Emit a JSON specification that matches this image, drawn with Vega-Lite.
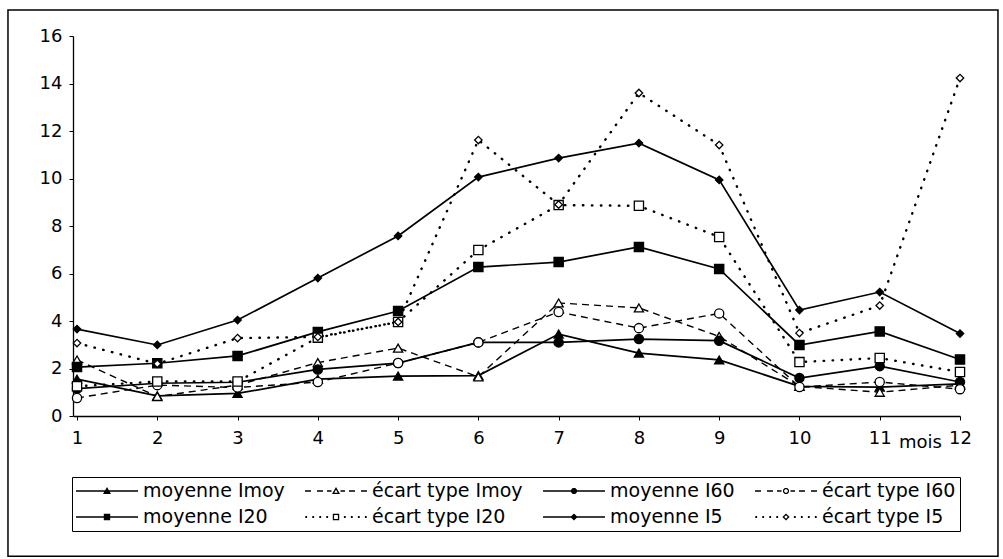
{
  "$schema": "https://vega.github.io/schema/vega-lite/v6.json",
  "width": 887,
  "height": 380,
  "autosize": {"type": "none"},
  "padding": {"left": 73, "top": 36, "right": 43, "bottom": 143},
  "background": "white",
  "config": {"view": {"stroke": null}, "font": "DejaVu Sans"},
  "data": {
    "values": [
      {"mois": 1, "moyenne Imoy": 1.55, "écart type Imoy": 2.36, "moyenne I60": 1.15, "écart type I60": 0.76, "moyenne I20": 2.06, "écart type I20": 1.25, "moyenne I5": 3.66, "écart type I5": 3.07},
      {"mois": 2, "moyenne Imoy": 0.85, "écart type Imoy": 0.82, "moyenne I60": 1.38, "écart type I60": 1.3, "moyenne I20": 2.22, "écart type I20": 1.45, "moyenne I5": 2.99, "écart type I5": 2.2},
      {"mois": 3, "moyenne Imoy": 0.95, "écart type Imoy": 1.3, "moyenne I60": 1.42, "écart type I60": 1.2, "moyenne I20": 2.53, "écart type I20": 1.45, "moyenne I5": 4.04, "écart type I5": 3.28},
      {"mois": 4, "moyenne Imoy": 1.55, "écart type Imoy": 2.25, "moyenne I60": 1.96, "écart type I60": 1.43, "moyenne I20": 3.54, "écart type I20": 3.3, "moyenne I5": 5.81, "écart type I5": 3.33},
      {"mois": 5, "moyenne Imoy": 1.68, "écart type Imoy": 2.86, "moyenne I60": 2.23, "écart type I60": 2.23, "moyenne I20": 4.42, "écart type I20": 3.96, "moyenne I5": 7.58, "écart type I5": 3.96},
      {"mois": 6, "moyenne Imoy": 1.7, "écart type Imoy": 1.65, "moyenne I60": 3.1, "écart type I60": 3.1, "moyenne I20": 6.27, "écart type I20": 6.99, "moyenne I5": 10.06, "écart type I5": 11.62},
      {"mois": 7, "moyenne Imoy": 3.45, "écart type Imoy": 4.76, "moyenne I60": 3.1, "écart type I60": 4.38, "moyenne I20": 6.48, "écart type I20": 8.88, "moyenne I5": 10.86, "écart type I5": 8.9},
      {"mois": 8, "moyenne Imoy": 2.65, "écart type Imoy": 4.55, "moyenne I60": 3.24, "écart type I60": 3.7, "moyenne I20": 7.12, "écart type I20": 8.85, "moyenne I5": 11.49, "écart type I5": 13.6},
      {"mois": 9, "moyenne Imoy": 2.36, "écart type Imoy": 3.35, "moyenne I60": 3.17, "écart type I60": 4.32, "moyenne I20": 6.19, "écart type I20": 7.54, "moyenne I5": 9.94, "écart type I5": 11.41},
      {"mois": 10, "moyenne Imoy": 1.25, "écart type Imoy": 1.25, "moyenne I60": 1.6, "écart type I60": 1.22, "moyenne I20": 2.99, "écart type I20": 2.27, "moyenne I5": 4.46, "écart type I5": 3.49},
      {"mois": 11, "moyenne Imoy": 1.22, "écart type Imoy": 1.0, "moyenne I60": 2.1, "écart type I60": 1.43, "moyenne I20": 3.56, "écart type I20": 2.44, "moyenne I5": 5.22, "écart type I5": 4.65},
      {"mois": 12, "moyenne Imoy": 1.35, "écart type Imoy": 1.3, "moyenne I60": 1.43, "écart type I60": 1.13, "moyenne I20": 2.38, "écart type I20": 1.85, "moyenne I5": 3.47, "écart type I5": 14.23}
    ]
  },
  "layer": [
    {
      "data": {"values": [{}]},
      "mark": {"type": "rect", "fill": null, "stroke": "black", "strokeWidth": 1.5, "clip": false},
      "encoding": {
        "x": {"datum": 0.14, "type": "quantitative", "scale": {"domain": [0.95, 12], "nice": false, "zero": false}},
        "x2": {"datum": 12.473},
        "y": {"datum": 17.095, "type": "quantitative", "scale": {"domain": [0, 16], "nice": false}},
        "y2": {"datum": -5.9}
      }
    },
    {
      "transform": [
        {"fold": ["moyenne Imoy", "écart type Imoy", "moyenne I60", "écart type I60", "moyenne I20", "écart type I20", "moyenne I5", "écart type I5"], "as": ["serie", "valeur"]}
      ],
      "encoding": {
        "x": {
          "field": "mois", "type": "quantitative",
          "scale": {"domain": [0.95, 12], "nice": false, "zero": false},
          "axis": {
            "values": [1, 2, 3, 4, 5, 6, 7, 8, 9, 10, 11, 12], "format": "d",
            "title": "mois", "titleX": 847, "titleY": 31, "titleBaseline": "alphabetic", "titleAlign": "center",
            "titleFont": "DejaVu Sans", "titleFontSize": 18, "titleFontWeight": "normal", "titleColor": "black",
            "labelFont": "DejaVu Sans", "labelFontSize": 18, "labelColor": "black", "labelPadding": 9,
            "labelFlush": false, "labelOverlap": false, "domainColor": "black", "domainWidth": 1.3,
            "tickColor": "black", "tickSize": 4, "tickWidth": 1, "grid": false
          }
        },
        "y": {
          "field": "valeur", "type": "quantitative",
          "scale": {"domain": [0, 16], "nice": false},
          "axis": {
            "values": [0, 2, 4, 6, 8, 10, 12, 14, 16], "title": null,
            "labelFont": "DejaVu Sans", "labelFontSize": 18, "labelColor": "black", "labelPadding": 7,
            "labelFlush": false, "labelOverlap": false, "domainColor": "black", "domainWidth": 1.3,
            "tickColor": "black", "tickSize": 4, "tickWidth": 1, "grid": false
          }
        }
      },
      "layer": [
        {
          "transform": [{"filter": {"field": "serie", "oneOf": ["moyenne Imoy", "moyenne I60", "moyenne I20", "moyenne I5"]}}],
          "mark": {"type": "line", "stroke": "black", "strokeWidth": 1.7},
          "encoding": {"detail": {"field": "serie", "type": "nominal"}}
        },
        {
          "transform": [{"filter": {"field": "serie", "oneOf": ["écart type Imoy", "écart type I60"]}}],
          "mark": {"type": "line", "stroke": "black", "strokeWidth": 1.4, "strokeDash": [7, 5]},
          "encoding": {"detail": {"field": "serie", "type": "nominal"}}
        },
        {
          "transform": [{"filter": {"field": "serie", "oneOf": ["écart type I20", "écart type I5"]}}],
          "mark": {"type": "line", "stroke": "black", "strokeWidth": 2.4, "strokeDash": [0.5, 8.5], "strokeCap": "round"},
          "encoding": {"detail": {"field": "serie", "type": "nominal"}}
        },
        {
          "mark": {"type": "point", "stroke": "black", "strokeWidth": 1.3, "opacity": 1},
          "encoding": {
            "shape": {
              "condition": [
                {"test": "datum.serie === 'moyenne Imoy' || datum.serie === 'écart type Imoy'", "value": "triangle-up"},
                {"test": "datum.serie === 'moyenne I60' || datum.serie === 'écart type I60'", "value": "circle"},
                {"test": "datum.serie === 'moyenne I20' || datum.serie === 'écart type I20'", "value": "square"}
              ],
              "value": "diamond"
            },
            "fill": {
              "condition": {"test": "datum.serie === 'moyenne Imoy' || datum.serie === 'moyenne I60' || datum.serie === 'moyenne I20' || datum.serie === 'moyenne I5'", "value": "black"},
              "value": "white"
            },
            "size": {
              "condition": {"test": "datum.serie === 'moyenne I5' || datum.serie === 'écart type I5'", "value": 55},
              "value": 85
            }
          }
        },
        {
          "transform": [{"filter": "datum.valeur < -100"}],
          "mark": {"type": "point", "filled": true, "stroke": "black", "strokeWidth": 0, "opacity": 1},
          "encoding": {
            "shape": {
              "field": "serie", "type": "nominal",
              "scale": {
                "domain": ["moyenne Imoy", "écart type Imoy", "moyenne I60", "écart type I60", "moyenne I20", "écart type I20", "moyenne I5", "écart type I5"],
                "range": [
                  "M-3.1,-0.07H3.1V0.07H-3.1ZM-0.4,0.3L0,-0.4L0.4,0.3Z",
                  "M-3.1,-0.065H-2.5V0.065H-3.1ZM-1.9,-0.065H-1.3V0.065H-1.9ZM-0.9,-0.065H-0.45V0.065H-0.9ZM0.45,-0.065H0.9V0.065H0.45ZM1.3,-0.065H1.9V0.065H1.3ZM2.5,-0.065H3.1V0.065H2.5ZM-0.4,0.3L0,-0.4L0.4,0.3ZM-0.175,0.169L0.175,0.169L0,-0.137Z",
                  "M-3.1,-0.07H3.1V0.07H-3.1ZM0.296,0.122L0.122,0.296L-0.122,0.296L-0.296,0.122L-0.296,-0.122L-0.122,-0.296L0.122,-0.296L0.296,-0.122Z",
                  "M-3.1,-0.065H-2.5V0.065H-3.1ZM-1.9,-0.065H-1.3V0.065H-1.9ZM-0.9,-0.065H-0.45V0.065H-0.9ZM0.45,-0.065H0.9V0.065H0.45ZM1.3,-0.065H1.9V0.065H1.3ZM2.5,-0.065H3.1V0.065H2.5ZM0.296,0.122L0.122,0.296L-0.122,0.296L-0.296,0.122L-0.296,-0.122L-0.122,-0.296L0.122,-0.296L0.296,-0.122ZM0.176,0.073L0.176,-0.073L0.073,-0.176L-0.073,-0.176L-0.176,-0.073L-0.176,0.073L-0.073,0.176L0.073,0.176Z",
                  "M-3.1,-0.07H3.1V0.07H-3.1ZM-0.32,-0.32H0.32V0.32H-0.32Z",
                  "M-3.07,-0.09H-2.89V0.09H-3.07ZM-2.37,-0.09H-2.19V0.09H-2.37ZM-1.67,-0.09H-1.49V0.09H-1.67ZM-0.97,-0.09H-0.79V0.09H-0.97ZM0.79,-0.09H0.97V0.09H0.79ZM1.49,-0.09H1.67V0.09H1.49ZM2.19,-0.09H2.37V0.09H2.19ZM2.89,-0.09H3.07V0.09H2.89ZM-0.32,-0.32H0.32V0.32H-0.32ZM-0.19,-0.19V0.19H0.19V-0.19Z",
                  "M-3.1,-0.07H3.1V0.07H-3.1ZM-0.36,0L0,-0.36L0.36,0L0,0.36Z",
                  "M-3.07,-0.09H-2.89V0.09H-3.07ZM-2.37,-0.09H-2.19V0.09H-2.37ZM-1.67,-0.09H-1.49V0.09H-1.67ZM-0.97,-0.09H-0.79V0.09H-0.97ZM0.79,-0.09H0.97V0.09H0.79ZM1.49,-0.09H1.67V0.09H1.49ZM2.19,-0.09H2.37V0.09H2.19ZM2.89,-0.09H3.07V0.09H2.89ZM-0.36,0L0,-0.36L0.36,0L0,0.36ZM-0.176,0L0,0.176L0.176,0L0,-0.176Z"
                ]
              },
              "legend": {
                "orient": "none", "legendX": -1, "legendY": 441, "direction": "horizontal", "columns": 4,
                "title": null, "symbolSize": 400, "symbolOffset": 21, "labelOffset": 26,
                "labelFont": "DejaVu Sans", "labelFontSize": 19, "labelColor": "black",
                "strokeColor": "black", "padding": 4, "rowPadding": 6, "columnPadding": 20,
                "symbolStrokeWidth": 0, "symbolOpacity": 1
              }
            },
            "fill": {
              "field": "serie", "type": "nominal",
              "scale": {
                "domain": ["moyenne Imoy", "écart type Imoy", "moyenne I60", "écart type I60", "moyenne I20", "écart type I20", "moyenne I5", "écart type I5"],
                "range": ["black", "black", "black", "black", "black", "black", "black", "black"]
              },
              "legend": {
                "orient": "none", "legendX": -1, "legendY": 441, "direction": "horizontal", "columns": 4,
                "title": null, "symbolSize": 400, "symbolOffset": 21, "labelOffset": 26,
                "labelFont": "DejaVu Sans", "labelFontSize": 19, "labelColor": "black",
                "strokeColor": "black", "padding": 4, "rowPadding": 6, "columnPadding": 20,
                "symbolStrokeWidth": 0, "symbolOpacity": 1
              }
            }
          }
        }
      ]
    }
  ]
}
